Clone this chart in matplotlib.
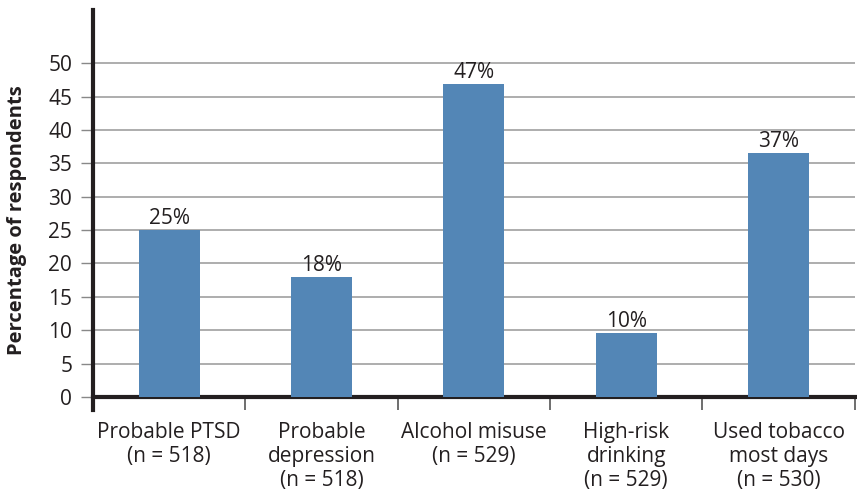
import matplotlib
matplotlib.use('Agg')
import matplotlib.pyplot as plt
import numpy as np

# Данные
categories = ['Probable PTSD\n(n = 518)', 'Probable\ndepression\n(n = 518)',
              'Alcohol misuse\n(n = 529)', 'High-risk\ndrinking\n(n = 529)',
              'Used tobacco\nmost days\n(n = 530)']
values = [25.0, 17.9, 46.9, 9.5, 36.5]
value_labels = ['25%', '18%', '47%', '10%', '37%']
y_ticks = [0, 5, 10, 15, 20, 25, 30, 35, 40, 45, 50]

plt.rcParams['font.family'] = ['Open Sans', 'DejaVu Sans']

fig = plt.figure(figsize=(8.57, 4.9), dpi=100)
ax = fig.add_axes([0.1085, 0.19, 0.889, 0.79])

x = np.arange(len(categories))
bars = ax.bar(x, values, width=0.4, color='#5386b6', zorder=3)

for xi, v, lab in zip(x, values, value_labels):
    ax.text(xi, v + 0.15, lab, ha='center', va='bottom', fontsize=15, color='#231f20')

ax.set_xlim(-0.5, len(categories) - 0.5)
ax.set_ylim(0, 58)
ax.set_yticks(y_ticks)
ax.tick_params(axis='y', labelsize=15, length=9, width=1, color='#888888', colors='#231f20', pad=6)
ax.yaxis.grid(True, color='#a0a0a0', lw=1.2, zorder=0)

# Подписи категорий без засечек, засечки на границах
ax.set_xticks(x)
ax.set_xticklabels(categories, fontsize=15, color='#231f20', linespacing=1.2)
ax.tick_params(axis='x', length=0, pad=18)
ax.set_xticks(np.arange(len(categories) + 1) - 0.5, minor=True)
ax.tick_params(axis='x', which='minor', length=9, width=1.2, color='#555555')

ax.set_ylabel('Percentage of respondents', fontsize=14.5, fontweight='bold', color='#231f20')
ax.yaxis.set_label_coords(-0.086, 0.457)

for s in ['top', 'right']:
    ax.spines[s].set_visible(False)
ax.spines['left'].set_linewidth(3)
ax.spines['left'].set_color('#231f20')
ax.spines['bottom'].set_linewidth(3)
ax.spines['bottom'].set_color('#231f20')
ax.spines['left'].set_bounds(-2, 58)

plt.savefig('out.png', dpi=100)
